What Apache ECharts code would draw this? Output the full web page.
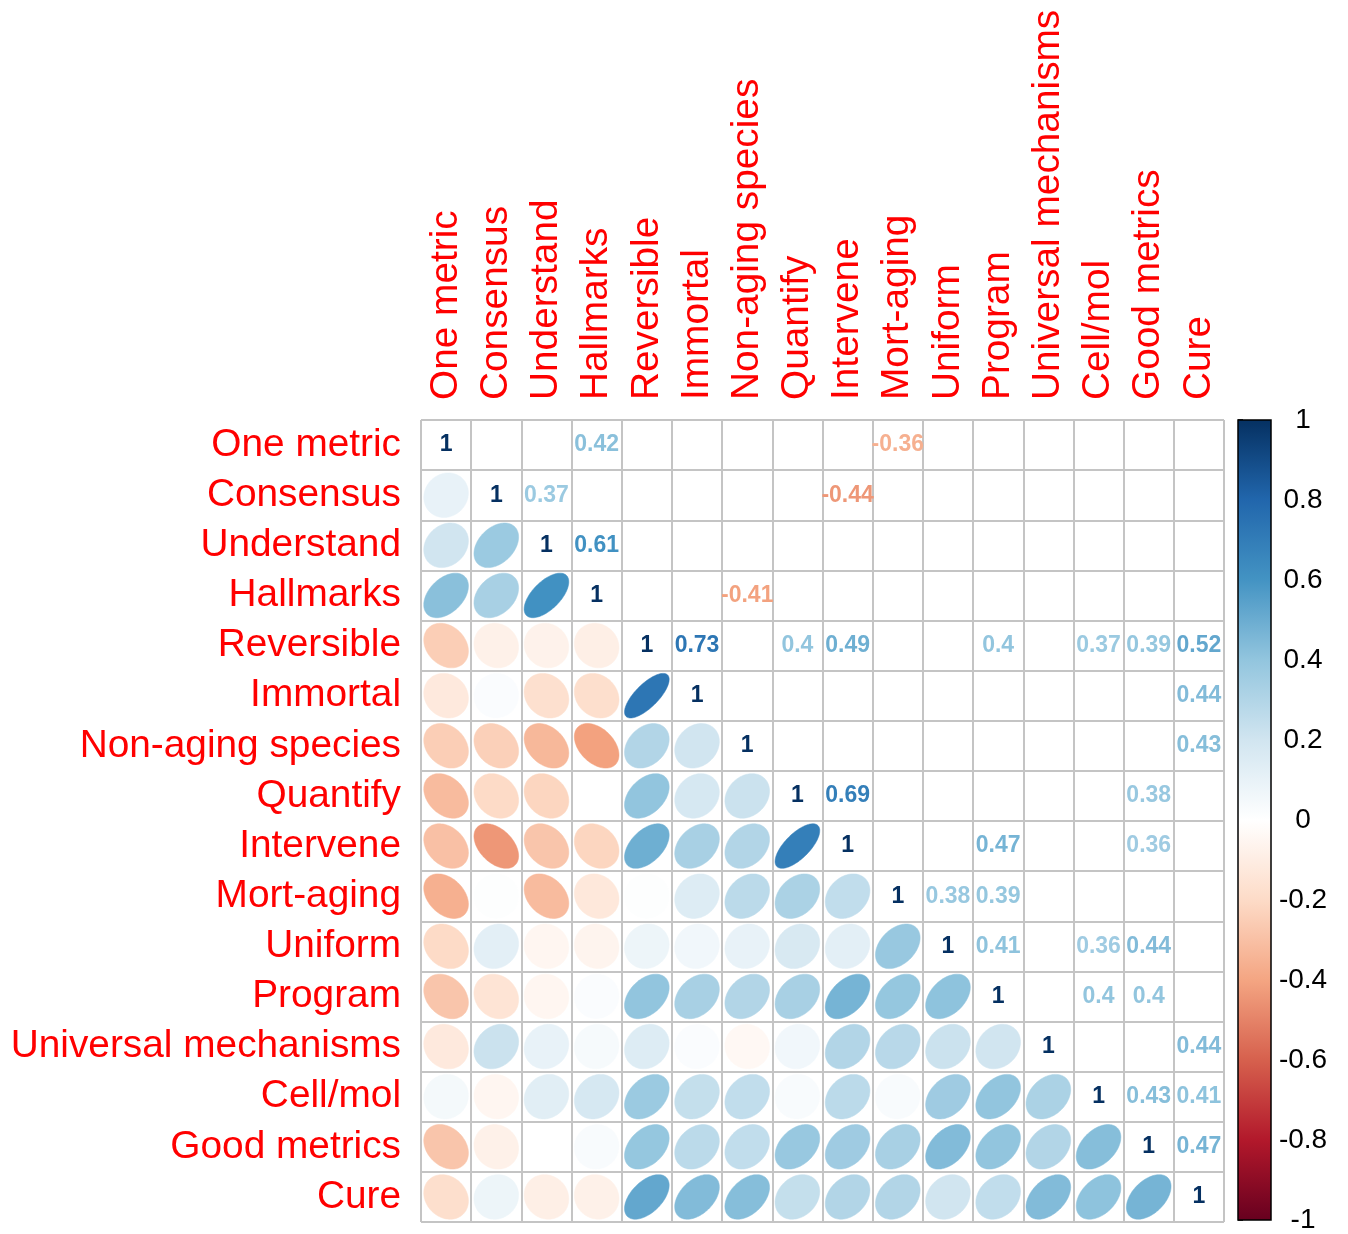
<!DOCTYPE html>
<html>
<head>
<meta charset="utf-8">
<script src="https://cdn.jsdelivr.net/npm/echarts@6/dist/echarts.min.js"></script>
<style>
  html, body { margin: 0; padding: 0; background: #ffffff; }
  #chart { width: 1348px; height: 1234px; }
</style>
</head>
<body>
<div id="chart"></div>
<script>
// Variable names (rows and columns share the same order)
const labels = [
  'One metric', 'Consensus', 'Understand', 'Hallmarks', 'Reversible', 'Immortal',
  'Non-aging species', 'Quantify', 'Intervene', 'Mort-aging', 'Uniform', 'Program',
  'Universal mechanisms', 'Cell/mol', 'Good metrics', 'Cure'
];

// Correlation matrix, lower triangle, one row per variable (diagonal last)
const oneMetric   = [1];
const consensus   = [0.10, 1];
const understand  = [0.20, 0.37, 1];
const hallmarks   = [0.42, 0.33, 0.61, 1];
const reversible  = [-0.25, -0.08, -0.07, -0.09, 1];
const immortal    = [-0.12, 0.02, -0.17, -0.18, 0.73, 1];
const nonAging    = [-0.25, -0.24, -0.33, -0.41, 0.30, 0.20, 1];
const quantify    = [-0.32, -0.20, -0.22, 0.00, 0.40, 0.18, 0.22, 1];
const intervene   = [-0.30, -0.44, -0.28, -0.22, 0.49, 0.33, 0.30, 0.69, 1];
const mortAging   = [-0.36, 0.01, -0.32, -0.13, 0.01, 0.15, 0.27, 0.32, 0.25, 1];
const uniform     = [-0.20, 0.12, -0.05, -0.06, 0.08, 0.06, 0.10, 0.17, 0.12, 0.38, 1];
const program     = [-0.28, -0.15, -0.05, 0.02, 0.40, 0.33, 0.30, 0.33, 0.47, 0.39, 0.41, 1];
const universal   = [-0.12, 0.22, 0.10, 0.04, 0.15, 0.02, -0.04, 0.06, 0.30, 0.28, 0.22, 0.20, 1];
const cellMol     = [0.05, -0.05, 0.13, 0.18, 0.37, 0.24, 0.25, 0.03, 0.27, 0.03, 0.36, 0.40, 0.32, 1];
const goodMetrics = [-0.28, -0.08, 0.00, 0.03, 0.39, 0.27, 0.25, 0.38, 0.36, 0.33, 0.44, 0.40, 0.30, 0.43, 1];
const cure        = [-0.18, 0.08, -0.09, -0.08, 0.52, 0.44, 0.43, 0.24, 0.30, 0.30, 0.20, 0.25, 0.44, 0.41, 0.47, 1];

// Coefficients are printed in the upper triangle only when |r| passes this cut
const sigCut = 0.355;

// Colour bar ticks
const barTicks = [-1, -0.8, -0.6, -0.4, -0.2, 0, 0.2, 0.4, 0.6, 0.8, 1];
// RdBu diverging palette, one colour per tick from -1 to 1
const palette = ['#67001F', '#B2182B', '#D6604D', '#F4A582', '#FDDBC7', '#FFFFFF',
                 '#D1E5F0', '#92C5DE', '#4393C3', '#2166AC', '#053061'];

const lowerRows = [oneMetric, consensus, understand, hallmarks, reversible, immortal,
  nonAging, quantify, intervene, mortAging, uniform, program, universal, cellMol,
  goodMetrics, cure];

function hexToRgb(h) {
  return [parseInt(h.slice(1, 3), 16), parseInt(h.slice(3, 5), 16), parseInt(h.slice(5, 7), 16)];
}
const paletteRgb = palette.map(hexToRgb);

function colourFor(r) {
  const t = (Math.max(-1, Math.min(1, r)) + 1) / 2 * (palette.length - 1);
  const i = Math.min(palette.length - 2, Math.floor(t));
  const f = t - i;
  const a = paletteRgb[i], b = paletteRgb[i + 1];
  const c = a.map((v, k) => Math.round(v + (b[k] - v) * f));
  return 'rgb(' + c.join(',') + ')';
}

// Cells: [column, row, r, kind]; kind 1 = ellipse (lower), kind 2 = number (upper + diagonal)
const cells = [];
lowerRows.forEach((vals, row) => {
  vals.forEach((r, col) => {
    if (col < row) {
      cells.push([col, row, r, 1]);
      if (Math.abs(r) >= sigCut) cells.push([row, col, r, 2]);
    } else {
      cells.push([col, row, r, 2]);
    }
  });
});

const FONT = '"Liberation Sans", Arial, Helvetica, sans-serif';
// Fraction of a cell filled by an uncorrelated (circular) ellipse
const ELL_SCALE = 0.89;

function renderCell(params, api) {
  const col = api.value(0), row = api.value(1), r = api.value(2), kind = api.value(3);
  const c = api.coord([col, row]);
  const s = api.size([1, 1]);
  const colour = colourFor(r);
  if (kind === 1) {
    const a = Math.acos(r);
    const pts = [];
    for (let i = 0; i < 99; i++) {
      const k = 2 * Math.PI * i / 98;
      pts.push([
        c[0] + ELL_SCALE * Math.cos(k + a / 2) / 2 * s[0],
        c[1] - ELL_SCALE * Math.cos(k - a / 2) / 2 * s[1]
      ]);
    }
    return {
      type: 'polygon',
      shape: { points: pts },
      style: { fill: colour, stroke: colour, lineWidth: 0.5 }
    };
  }
  return {
    type: 'text',
    x: c[0],
    y: c[1],
    style: {
      text: String(Math.round(r * 100) / 100),
      fill: colour,
      font: 'bold 23px ' + FONT,
      align: 'center',
      verticalAlign: 'middle'
    }
  };
}

function renderBar(params, api) {
  const tl = api.coord([0, 1]);
  const br = api.coord([1, -1]);
  const stops = palette.map((col, i) => ({ offset: 1 - i / (palette.length - 1), color: col }));
  stops.reverse();
  return {
    type: 'rect',
    shape: { x: tl[0], y: tl[1], width: br[0] - tl[0], height: br[1] - tl[1] },
    style: {
      fill: new echarts.graphic.LinearGradient(0, 0, 0, 1, stops),
      stroke: '#000000',
      lineWidth: 1.5
    }
  };
}

const chart = echarts.init(document.getElementById('chart'), null, { renderer: 'canvas' });

chart.setOption({
  backgroundColor: '#ffffff',
  animation: false,
  grid: [
    { left: 421, top: 420, width: 803, height: 802, show: false },
    { left: 1238, top: 420, width: 33, height: 802, show: false }
  ],
  xAxis: [
    {
      type: 'category', gridIndex: 0, data: labels, position: 'top',
      axisLine: { show: false }, axisTick: { show: false },
      axisLabel: {
        interval: 0, rotate: -90, margin: 20, color: '#FF0000',
        fontSize: 38.8, fontFamily: FONT
      },
      splitLine: { show: true, interval: 0, lineStyle: { color: '#C4C4C4', width: 2 } }
    },
    { type: 'value', gridIndex: 1, min: 0, max: 1, show: false }
  ],
  yAxis: [
    {
      type: 'category', gridIndex: 0, data: labels, inverse: true,
      axisLine: { show: false }, axisTick: { show: false },
      axisLabel: {
        interval: 0, margin: 20, color: '#FF0000',
        fontSize: 38.8, fontFamily: FONT
      },
      splitLine: { show: true, interval: 0, lineStyle: { color: '#C4C4C4', width: 2 } }
    },
    {
      type: 'value', gridIndex: 1, min: barTicks[0], max: barTicks[barTicks.length - 1],
      interval: 0.2, position: 'right',
      axisLine: { show: false },
      axisTick: { show: true, length: 5, lineStyle: { color: '#000000', width: 1.5 } },
      splitLine: { show: false },
      axisLabel: {
        margin: 32, align: 'center', color: '#000000', fontSize: 28, fontFamily: FONT,
        formatter: v => String(+(+v).toFixed(1))
      }
    }
  ],
  series: [
    {
      type: 'custom', xAxisIndex: 0, yAxisIndex: 0,
      renderItem: renderCell, data: cells, clip: false,
      encode: { x: 0, y: 1 }, silent: true
    },
    {
      type: 'custom', xAxisIndex: 1, yAxisIndex: 1,
      renderItem: renderBar, data: [[0.5, 0]], clip: false,
      encode: { x: 0, y: 1 }, silent: true
    }
  ]
});
</script>
</body>
</html>
